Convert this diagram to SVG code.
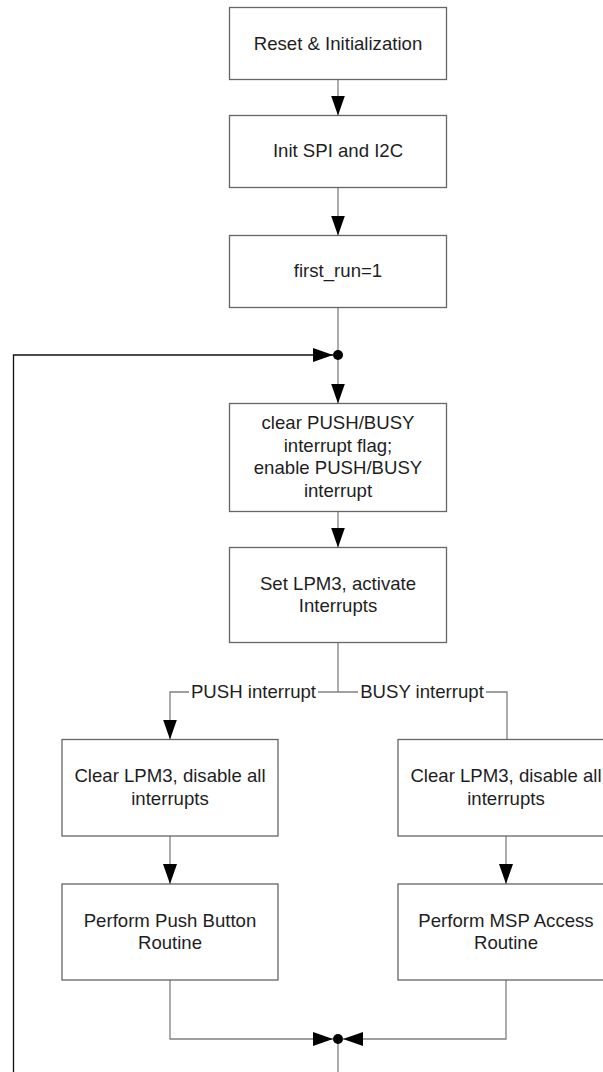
<svg xmlns="http://www.w3.org/2000/svg" width="603" height="1072" viewBox="0 0 603 1072">
<style>
.box{fill:#fff;stroke:#666;stroke-width:1.3}
.t{font-family:"Liberation Sans",Arial,sans-serif;font-size:18.6px;fill:#1e1e1e;text-anchor:middle}
.c{fill:none;stroke:#808080;stroke-width:1.3}
.loop{fill:none;stroke:#111;stroke-width:1.3}
.dot{fill:#000}
</style>
<defs>
<marker id="ah" markerUnits="userSpaceOnUse" markerWidth="20" markerHeight="14" refX="20" refY="7" orient="auto">
<path d="M0,0 L20,7 L0,14 Z" fill="#000"/>
</marker>
</defs>
<rect width="603" height="1072" fill="#fff"/>
<g id="connectors">
<path class="c" d="M338,79.5 V115.5" marker-end="url(#ah)"/>
<path class="c" d="M338,187.5 V235.5" marker-end="url(#ah)"/>
<path class="c" d="M338,307.5 V355"/>
<path class="c" d="M338,355 V403.5" marker-end="url(#ah)"/>
<path class="c" d="M338,511.5 V547.5" marker-end="url(#ah)"/>
<path class="c" d="M338,642.5 V692"/>
<path class="c" d="M189,692 H170 V739.5" marker-end="url(#ah)"/>
<path class="c" d="M318,692 H358"/>
<path class="c" d="M486,692 H507 V739.5"/>
<path class="c" d="M170,836 V884" marker-end="url(#ah)"/>
<path class="c" d="M506,836 V884" marker-end="url(#ah)"/>
<path class="c" d="M170,980 V1039 H333" marker-end="url(#ah)"/>
<path class="c" d="M506,980 V1039 H343" marker-end="url(#ah)"/>
<path class="c" d="M338,1039 V1072"/>
<path class="loop" d="M13.5,1072 V355 H333" marker-end="url(#ah)"/>
<circle class="dot" cx="338" cy="355" r="5"/>
<circle class="dot" cx="338" cy="1039" r="5"/>
<text class="t" x="253.5" y="698">PUSH interrupt</text>
<text class="t" x="422" y="698">BUSY interrupt</text>
</g>
<g id="n1"><rect class="box" x="229.5" y="7.5" width="217" height="72"/><text class="t" x="338" y="49.5">Reset &amp; Initialization</text></g>
<g id="n2"><rect class="box" x="229.5" y="115.5" width="217" height="72"/><text class="t" x="338" y="157">Init SPI and I2C</text></g>
<g id="n3"><rect class="box" x="229.5" y="235.5" width="217" height="72"/><text class="t" x="338" y="277">first_run=1</text></g>
<g id="n4"><rect class="box" x="229.5" y="403.5" width="217" height="108"/>
<text class="t" x="338" y="429">clear PUSH/BUSY</text>
<text class="t" x="338" y="451.5">interrupt flag;</text>
<text class="t" x="338" y="474">enable PUSH/BUSY</text>
<text class="t" x="338" y="496.5">interrupt</text></g>
<g id="n5"><rect class="box" x="229.5" y="547.5" width="217" height="95"/>
<text class="t" x="338" y="589.5">Set LPM3, activate</text>
<text class="t" x="338" y="612">Interrupts</text></g>
<g id="n6"><rect class="box" x="62" y="739.5" width="216" height="96.5"/>
<text class="t" x="170" y="782">Clear LPM3, disable all</text>
<text class="t" x="170" y="804.5">interrupts</text></g>
<g id="n7"><rect class="box" x="62" y="884" width="216" height="96"/>
<text class="t" x="170" y="926.5">Perform Push Button</text>
<text class="t" x="170" y="949">Routine</text></g>
<g id="n8"><rect class="box" x="398" y="739.5" width="216" height="96.5"/>
<text class="t" x="506" y="782">Clear LPM3, disable all</text>
<text class="t" x="506" y="804.5">interrupts</text></g>
<g id="n9"><rect class="box" x="398" y="884" width="216" height="96"/>
<text class="t" x="506" y="926.5">Perform MSP Access</text>
<text class="t" x="506" y="949">Routine</text></g>
</svg>
